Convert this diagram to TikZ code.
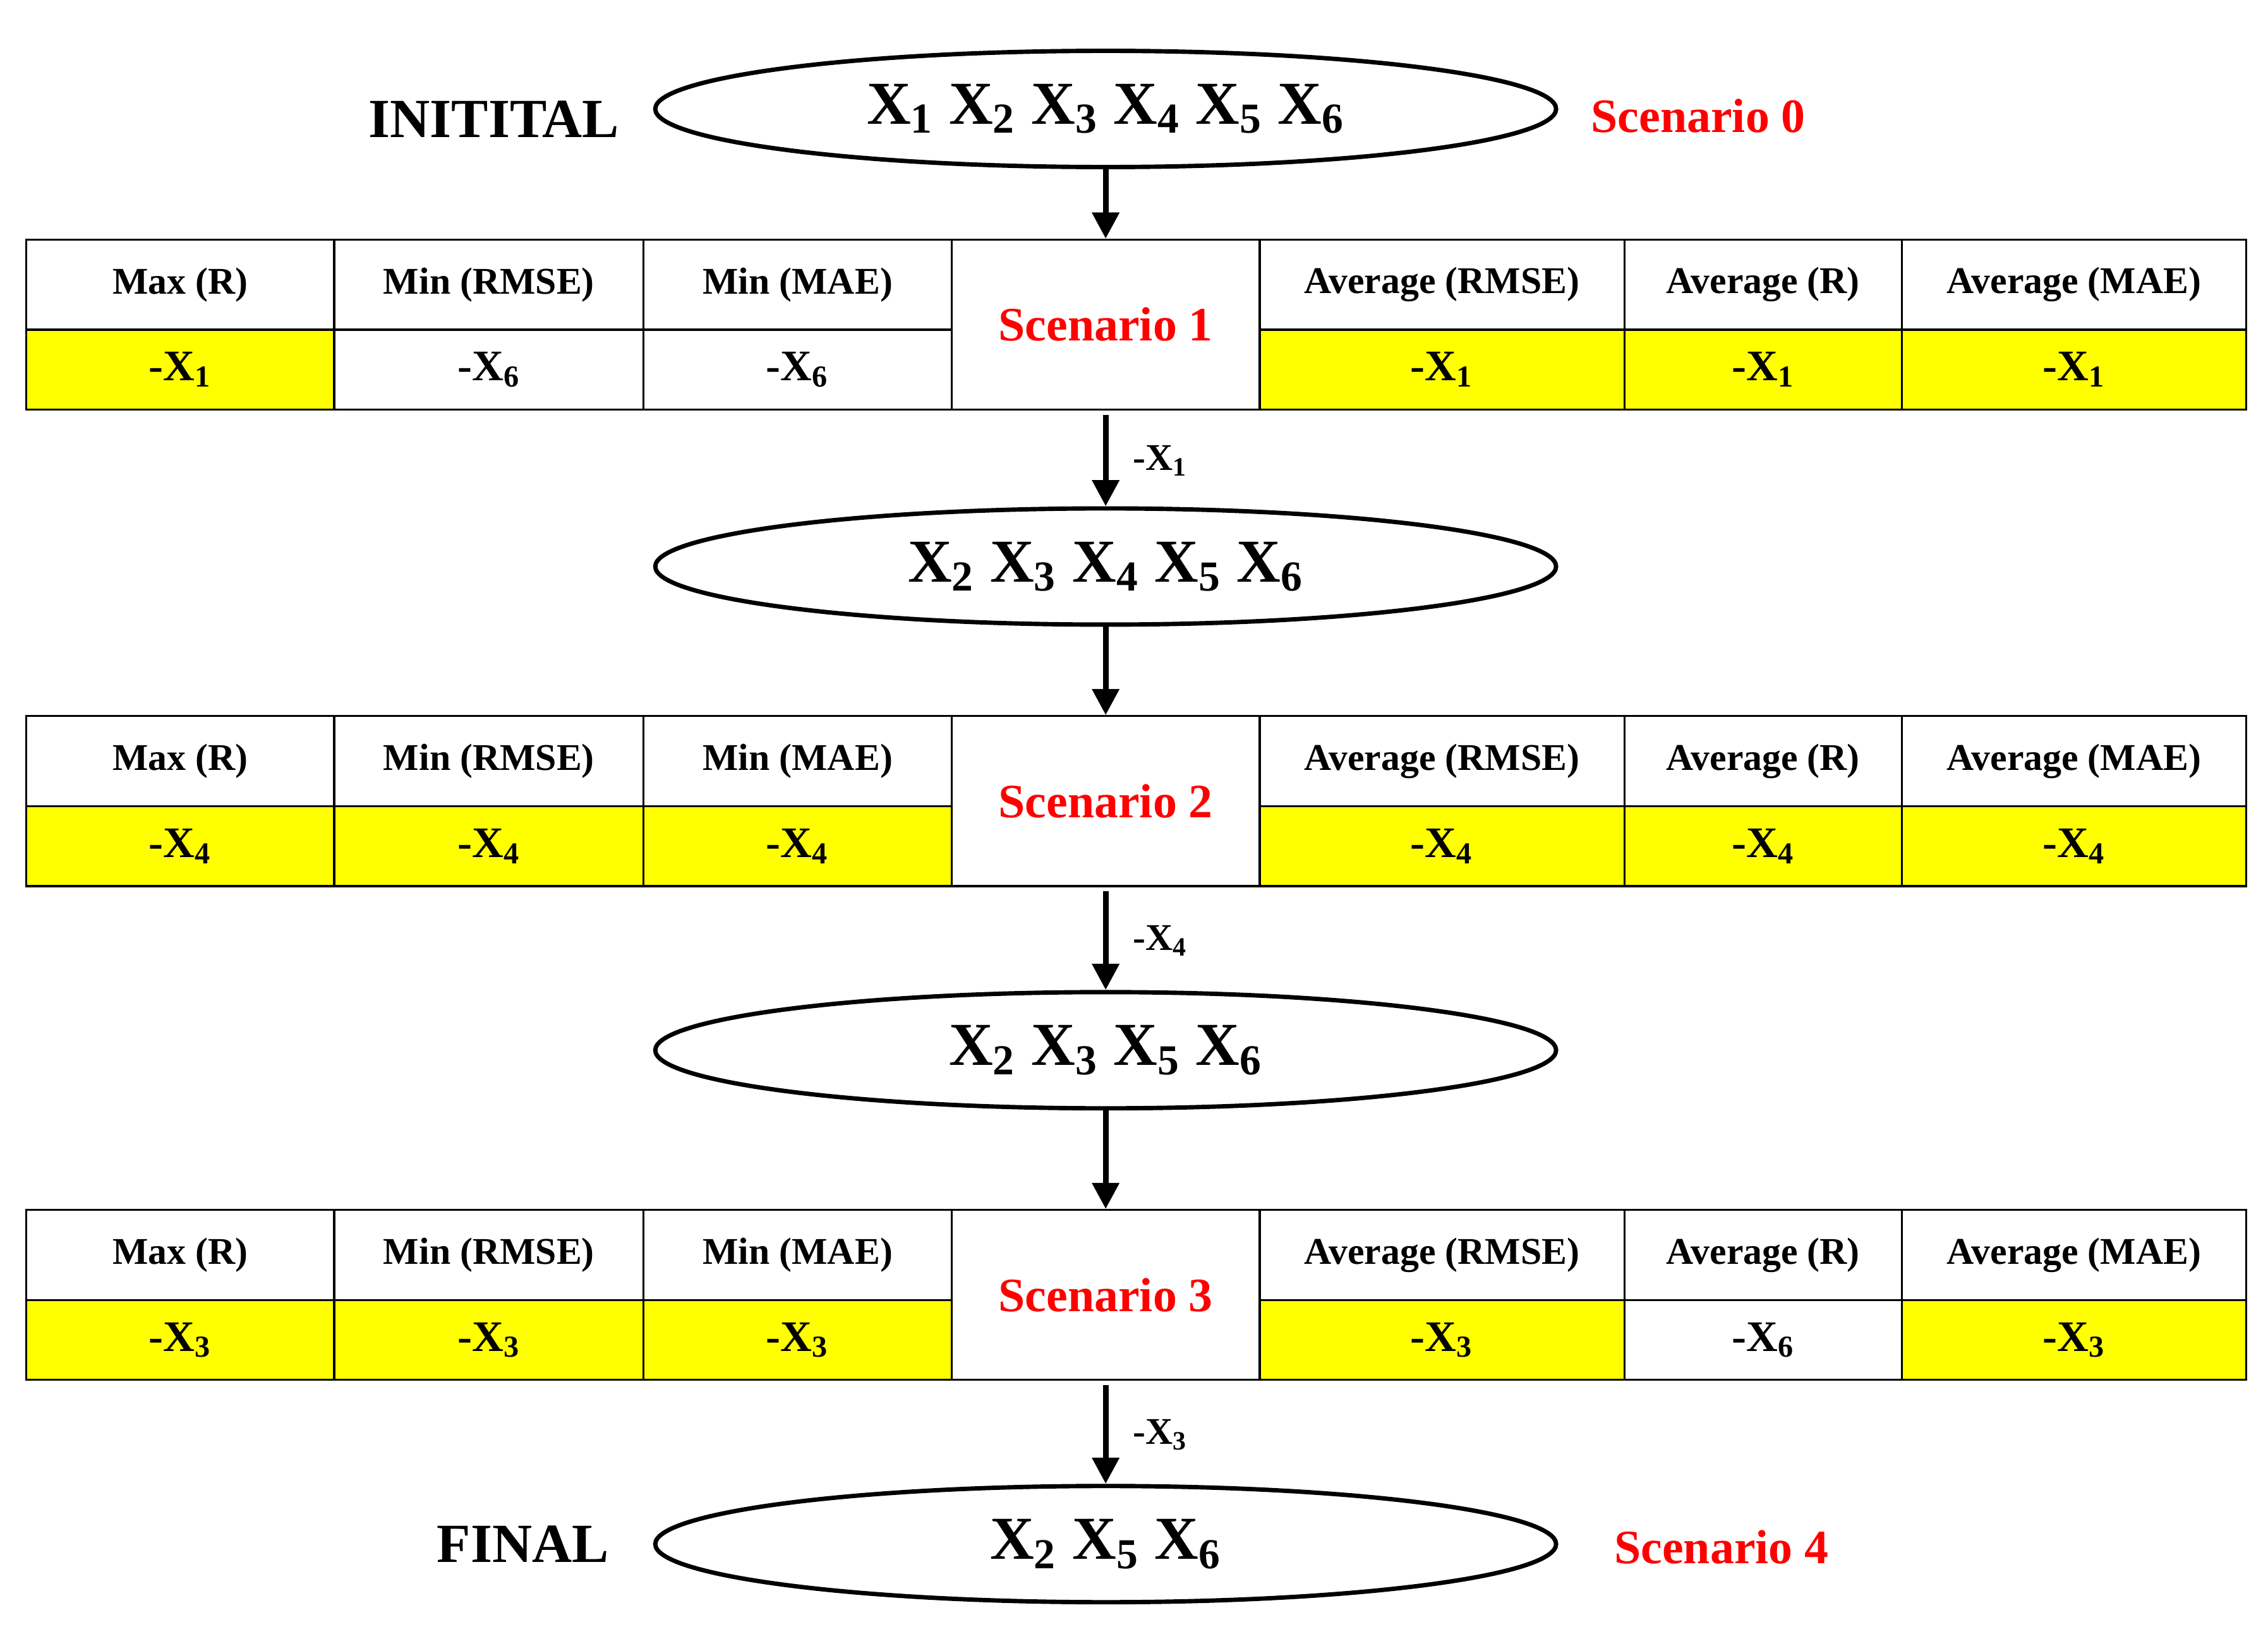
\documentclass[tikz,border=0pt]{standalone}
\usepackage{fontspec}
\setmainfont{Liberation Serif}
\usetikzlibrary{shapes.geometric,arrows.meta}
\definecolor{yel}{RGB}{255,255,0}
\definecolor{scred}{RGB}{255,0,0}
\begin{document}
\begin{tikzpicture}[x=0.5pt,y=-0.5pt,
  ell/.style={ellipse,draw,line width=1.5pt,minimum width=310pt,minimum height=40pt,inner sep=0pt,font=\fontsize{21}{25}\selectfont\bfseries},
  cell/.style={rectangle,draw,line width=0.7pt,inner sep=0pt,font=\fontsize{13}{15}\selectfont\bfseries},
  val/.style={cell,font=\fontsize{15}{17}\selectfont\bfseries},
  red/.style={text=scred,font=\fontsize{16.5}{19}\selectfont\bfseries},
  lab/.style={font=\fontsize{19}{22}\selectfont\bfseries},
  arr/.style={-{Triangle[length=9pt,width=9pt]},line width=2pt},
  alab/.style={font=\fontsize{13}{15}\selectfont\bfseries,anchor=west}]
\useasboundingbox (0,0) rectangle (1561,1120);
\newcommand{\X}[1]{X\textsubscript{#1}}
% table macro: #1 top y, #2 scenario num, #3..#8 values, fill list
\newcommand{\mktable}[3]{%
  \foreach \i/\xa/\xb/\hd/\v/\f in {#3}{%
    \pgfmathsetmacro\w{(\xb-\xa)*0.5}
    \node[cell,minimum width=\w pt,minimum height=31pt] (h#2\i) at ({(\xa+\xb)/2},{#1+31}) {\hd};
    \node[val,fill=\f,minimum width=\w pt,minimum height=27.5pt] (v#2\i) at ({(\xa+\xb)/2},{#1+62+27.5}) {\v};
  }
  \node[cell,red,minimum width=106pt,minimum height=58.5pt] (sc#2) at (761,{#1+58.5}) {Scenario #2};
}
\node[ell] (e0) at (761,75) {\X1 \X2 \X3 \X4 \X5 \X6};
\node[lab] (init) at (340,82) {INITITAL};
\node[red,anchor=west] (s0) at (1088,80) {Scenario 0};
\mktable{165}{1}{1/18/230/Max (R)/-\X1/yel,2/230/443/Min (RMSE)/-\X6/white,3/443/655/Min (MAE)/-\X6/white,5/867/1118/Average (RMSE)/-\X1/yel,6/1118/1309/Average (R)/-\X1/yel,7/1309/1546/Average (MAE)/-\X1/yel}
\node[ell] (e1) at (761,390) {\X2 \X3 \X4 \X5 \X6};
\mktable{493}{2}{1/18/230/Max (R)/-\X4/yel,2/230/443/Min (RMSE)/-\X4/yel,3/443/655/Min (MAE)/-\X4/yel,5/867/1118/Average (RMSE)/-\X4/yel,6/1118/1309/Average (R)/-\X4/yel,7/1309/1546/Average (MAE)/-\X4/yel}
\node[ell] (e2) at (761,723) {\X2 \X3 \X5 \X6};
\mktable{833}{3}{1/18/230/Max (R)/-\X3/yel,2/230/443/Min (RMSE)/-\X3/yel,3/443/655/Min (MAE)/-\X3/yel,5/867/1118/Average (RMSE)/-\X3/yel,6/1118/1309/Average (R)/-\X6/white,7/1309/1546/Average (MAE)/-\X3/yel}
\node[ell] (e3) at (761,1063) {\X2 \X5 \X6};
\node[lab] (fin) at (360,1063) {FINAL};
\node[red,anchor=west] (s4) at (1104,1065) {Scenario 4};
\draw[arr] (e0.south) -- (sc1.north);
\draw[arr] (sc1.south) ++(0,3) coordinate (c1) (c1) -- node[alab,pos=0.5,xshift=5pt]{-\X1} (e1.north);
\draw[arr] (e1.south) -- (sc2.north);
\draw[arr] (sc2.south) ++(0,3) coordinate (c2) (c2) -- node[alab,pos=0.5,xshift=5pt]{-\X4} (e2.north);
\draw[arr] (e2.south) -- (sc3.north);
\draw[arr] (sc3.south) ++(0,3) coordinate (c3) (c3) -- node[alab,pos=0.5,xshift=5pt]{-\X3} (e3.north);
\end{tikzpicture}
\end{document}
